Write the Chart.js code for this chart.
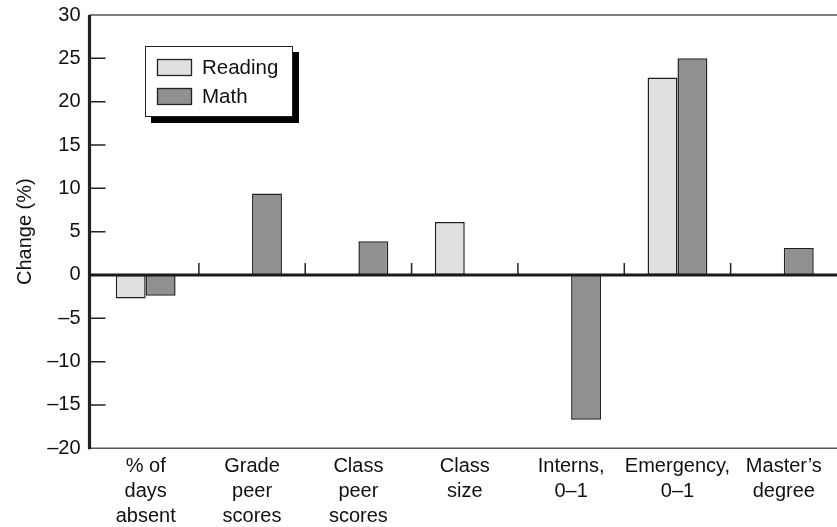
<!DOCTYPE html>
<html>
<head>
<meta charset="utf-8">
<script src="https://cdn.jsdelivr.net/npm/chart.js@4.4.1/dist/chart.umd.min.js"></script>
<style>
html,body{margin:0;padding:0;background:#fff;}
#wrap{width:837px;height:527px;}
</style>
</head>
<body>
<div id="wrap"><canvas id="c" width="837" height="527"></canvas></div>
<script>
const categories = [
  ["% of", "days", "absent"],
  ["Grade", "peer", "scores"],
  ["Class", "peer", "scores"],
  ["Class", "size"],
  ["Interns,", "0\u20131"],
  ["Emergency,", "0\u20131"],
  ["Master\u2019s", "degree"]
];
const readingValues = [-2.7, null, null, 6.1, null, 22.8, null];
const mathValues = [-2.4, 9.4, 3.9, null, -16.7, 25.0, 3.1];
const yMin = -20, yMax = 30, yStep = 5;
const yTitle = "Change (%)";

const FONT = "'Liberation Sans', Arial, Helvetica, sans-serif";

const decor = {
  id: 'decor',
  afterDatasetsDraw(chart) {
    const ctx = chart.ctx;
    const ca = chart.chartArea;
    const x = chart.scales.x, y = chart.scales.y;
    const axisX = ca.left - 3;
    const W = chart.width;
    ctx.save();
    // top and bottom frame lines
    ctx.strokeStyle = '#555';
    ctx.lineWidth = 1.6;
    ctx.beginPath();
    ctx.moveTo(axisX, ca.top); ctx.lineTo(W, ca.top);
    ctx.moveTo(axisX, ca.bottom); ctx.lineTo(W, ca.bottom);
    ctx.stroke();
    // y ticks inward
    ctx.strokeStyle = '#222';
    ctx.lineWidth = 1.5;
    ctx.beginPath();
    y.ticks.forEach(t => {
      const py = y.getPixelForValue(t.value);
      if (t.value === yMax || t.value === yMin || t.value === 0) return;
      ctx.moveTo(axisX, py); ctx.lineTo(axisX + 16, py);
    });
    ctx.stroke();
    // category separators
    const zy = y.getPixelForValue(0);
    ctx.beginPath();
    for (let i = 0; i < categories.length - 1; i++) {
      const px = (x.getPixelForTick(i) + x.getPixelForTick(i + 1)) / 2;
      ctx.moveTo(px, zy - 12); ctx.lineTo(px, zy);
    }
    ctx.stroke();
    // zero line
    ctx.strokeStyle = '#1a1a1a';
    ctx.lineWidth = 3;
    ctx.beginPath();
    ctx.moveTo(axisX, zy); ctx.lineTo(W, zy);
    ctx.stroke();
    // y axis line
    ctx.strokeStyle = '#222';
    ctx.lineWidth = 3.2;
    ctx.beginPath();
    ctx.moveTo(axisX, ca.top); ctx.lineTo(axisX, ca.bottom + 1);
    ctx.stroke();
    // legend
    const lx = 145, ly = 46, lw = 148, lh = 71, sh = 6;
    ctx.fillStyle = '#000';
    ctx.fillRect(lx + sh, ly + sh, lw, lh);
    ctx.fillStyle = '#fff';
    ctx.fillRect(lx, ly, lw, lh);
    ctx.strokeStyle = '#222';
    ctx.lineWidth = 1;
    ctx.strokeRect(lx + 0.5, ly + 0.5, lw - 1, lh - 1);
    chart.data.datasets.forEach((ds, i) => {
      const sy = 59 + i * 29;
      ctx.fillStyle = ds.backgroundColor;
      ctx.fillRect(157, sy, 35, 17);
      ctx.strokeStyle = '#222';
      ctx.lineWidth = 1.3;
      ctx.strokeRect(157.5, sy + 0.5, 34, 16);
      ctx.fillStyle = '#111';
      ctx.font = '20.5px ' + FONT;
      ctx.textBaseline = 'middle';
      ctx.textAlign = 'left';
      ctx.fillText(ds.label, 202, sy + 9);
    });
    ctx.restore();
  }
};

new Chart(document.getElementById('c'), {
  type: 'bar',
  data: {
    labels: categories,
    datasets: [
      { label: 'Reading', data: readingValues, backgroundColor: '#e0e0e0', borderColor: '#222', borderWidth: 1.5, borderSkipped: false },
      { label: 'Math', data: mathValues, backgroundColor: '#909090', borderColor: '#222', borderWidth: 1.5, borderSkipped: false }
    ]
  },
  options: {
    responsive: false,
    animation: false,
    devicePixelRatio: 1,
    layout: { padding: { top: 15, left: 0, right: 0, bottom: 0 } },
    datasets: { bar: { categoryPercentage: 0.5625, barPercentage: 1.0 } },
    plugins: { legend: { display: false }, tooltip: { enabled: false } },
    scales: {
      x: {
        grid: { display: false, drawTicks: false },
        border: { display: false },
        ticks: {
          autoSkip: false, maxRotation: 0, minRotation: 0,
          padding: 6,
          color: '#111',
          font: { family: FONT, size: 20, lineHeight: 1.25 }
        },
        afterFit(scale) { scale.height = 78.7; scale.paddingLeft = 0; scale.paddingRight = 0; }
      },
      y: {
        min: yMin, max: yMax,
        grid: { display: false, drawTicks: false },
        border: { display: false },
        ticks: {
          stepSize: yStep,
          padding: 12,
          color: '#111',
          font: { family: FONT, size: 20 },
          callback: v => String(v).replace('-', '\u2013')
        },
        title: {
          display: true, text: yTitle, color: '#111',
          font: { family: FONT, size: 20 },
          padding: { top: 13, bottom: 0 }
        },
        afterFit(scale) { scale.width = 92.5; scale.paddingTop = 0; scale.paddingBottom = 0; }
      }
    }
  },
  plugins: [decor]
});
</script>
</body>
</html>
